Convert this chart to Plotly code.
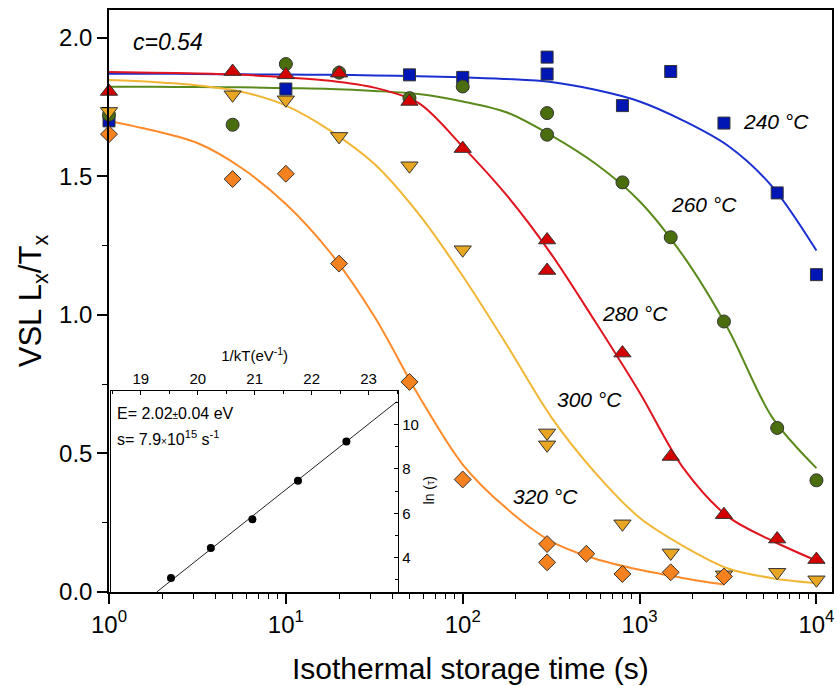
import plotly.graph_objects as go
import numpy as np

# ---------------- data ----------------
blue_t = [1, 10, 50, 100, 300, 300, 800, 1500, 3000, 6000, 10000]
blue_y = [1.70, 1.815, 1.866, 1.857, 1.93, 1.869, 1.755, 1.878, 1.692, 1.44, 1.145]
green_t = [1, 5, 10, 20, 50, 100, 300, 300, 800, 1500, 3000, 6000, 10000]
green_y = [1.722, 1.686, 1.905, 1.874, 1.782, 1.824, 1.728, 1.65, 1.478, 1.28, 0.976, 0.592, 0.403]
red_t = [1, 5, 10, 20, 50, 100, 300, 300, 800, 1500, 3000, 6000, 10000]
red_y = [1.806, 1.878, 1.866, 1.872, 1.77, 1.60, 1.27, 1.16, 0.862, 0.489, 0.279, 0.191, 0.117]
yellow_t = [1, 5, 10, 20, 50, 100, 300, 300, 800, 1500, 3000, 6000, 10000]
yellow_y = [1.734, 1.794, 1.776, 1.644, 1.538, 1.235, 0.574, 0.531, 0.246, 0.141, 0.062, 0.071, 0.044]
orange_t = [1, 5, 10, 20, 50, 100, 300, 300, 500, 800, 1500, 3000]
orange_y = [1.652, 1.49, 1.509, 1.185, 0.758, 0.406, 0.173, 0.107, 0.138, 0.065, 0.071, 0.056]

# fitted curves (at quarter-decade steps)
fit_t = [1, 1.78, 3.16, 5.62, 10, 17.8, 31.6, 56.2, 100, 178, 316, 562, 1000, 1778, 3162, 5623, 10000]
blue_fit_y = [1.870, 1.870, 1.869, 1.868, 1.867, 1.866, 1.864, 1.861, 1.857, 1.851, 1.840, 1.812, 1.770, 1.700, 1.610, 1.463, 1.232]
green_fit_y = [1.823, 1.823, 1.822, 1.821, 1.818, 1.815, 1.808, 1.797, 1.770, 1.730, 1.648, 1.546, 1.410, 1.210, 0.950, 0.630, 0.447]
red_fit_y = [1.876, 1.874, 1.871, 1.866, 1.857, 1.845, 1.820, 1.765, 1.607, 1.430, 1.220, 0.975, 0.720, 0.445, 0.272, 0.185, 0.113]
yellow_fit_y = [1.847, 1.840, 1.828, 1.805, 1.755, 1.665, 1.545, 1.365, 1.140, 0.890, 0.632, 0.430, 0.268, 0.165, 0.085, 0.050, 0.032]
orange_fit_t = [1, 1.78, 3.16, 5.62, 10, 17.8, 31.6, 56.2, 100, 178, 316, 562, 1000, 1778, 3000]
orange_fit_y = [1.700, 1.665, 1.620, 1.530, 1.400, 1.225, 0.995, 0.710, 0.460, 0.300, 0.183, 0.120, 0.080, 0.050, 0.027]

# inset (Arrhenius plot)
inv_kT = [19.53, 20.23, 20.96, 21.76, 22.61]
ln_tau = [3.09, 4.44, 5.73, 7.47, 9.24]
line_x = [19.28, 23.49]
line_y = [2.455, 11.02]

temp_labels = ["240 °C", "260 °C", "280 °C", "300 °C", "320 °C"]
label_t = [5930, 2320, 947, 521, 294]
label_y = [1.697, 1.397, 1.006, 0.696, 0.345]

x_tick_vals = [1, 10, 100, 1000, 10000]
x_tick_text = ["10<sup>0</sup>", "10<sup>1</sup>", "10<sup>2</sup>", "10<sup>3</sup>", "10<sup>4</sup>"]
y_tick_vals = [0.0, 0.5, 1.0, 1.5, 2.0]
y_tick_text = ["0.0", "0.5", "1.0", "1.5", "2.0"]
inset_x_ticks = [19, 20, 21, 22, 23]
inset_y_ticks = [4, 6, 8, 10]

# ---------------- styles ----------------
FONT = "Liberation Sans, Arial, sans-serif"
series = [
    (blue_t, blue_y, fit_t, blue_fit_y, "square", "#0016B4", "#1A2FD0", 12),
    (green_t, green_y, fit_t, green_fit_y, "circle", "#4A6E0E", "#5A8A1C", 13),
    (red_t, red_y, fit_t, red_fit_y, "triangle-up", "#D40000", "#E0141E", 15),
    (yellow_t, yellow_y, fit_t, yellow_fit_y, "triangle-down", "#E8A622", "#F0B634", 15),
    (orange_t, orange_y, orange_fit_t, orange_fit_y, "diamond", "#F5821F", "#FF8A2A", 13),
]

fig = go.Figure()
for t, y, ft, fy, sym, mc, lc, sz in series:
    fig.add_trace(go.Scatter(x=ft, y=fy, mode="lines",
                             line=dict(color=lc, width=2, shape="spline", smoothing=0.9),
                             showlegend=False, hoverinfo="skip"))
for t, y, ft, fy, sym, mc, lc, sz in series:
    fig.add_trace(go.Scatter(x=t, y=y, mode="markers",
                             marker=dict(symbol=sym, size=sz, color=mc, line=dict(color="#333333", width=1)),
                             showlegend=False, cliponaxis=False))

# inset traces
fig.add_trace(go.Scatter(x=line_x, y=line_y, mode="lines", line=dict(color="#222222", width=1),
                         xaxis="x2", yaxis="y2", showlegend=False))
fig.add_trace(go.Scatter(x=inv_kT, y=ln_tau, mode="markers", marker=dict(color="black", size=8),
                         xaxis="x2", yaxis="y2", showlegend=False))

minor_x = [m * 10 ** d for d in range(0, 4) for m in range(2, 10)]

fig.update_layout(
    width=837, height=686,
    margin=dict(l=109, r=3, t=10, b=94),
    paper_bgcolor="white", plot_bgcolor="white",
    font=dict(family=FONT, color="black"),
    xaxis=dict(type="log", range=[0, 4.088], tickmode="array", tickvals=x_tick_vals, ticktext=x_tick_text,
               ticks="outside", ticklen=10, tickwidth=1.5, tickcolor="black",
               showline=True, linecolor="black", linewidth=1.5, mirror=True, showgrid=False, zeroline=False,
               tickfont=dict(size=24),
               minor=dict(tickmode="array", tickvals=minor_x, ticks="outside", ticklen=5, tickwidth=1, tickcolor="black")),
    yaxis=dict(range=[0, 2.1], tickmode="array", tickvals=y_tick_vals, ticktext=y_tick_text,
               ticks="outside", ticklen=10, tickwidth=1.5, tickcolor="black",
               showline=True, linecolor="black", linewidth=1.5, mirror=True, showgrid=False, zeroline=False,
               tickfont=dict(size=24),
               minor=dict(dtick=0.25, ticks="outside", ticklen=5, tickwidth=1, tickcolor="black"),
               title=dict(text="VSL L<sub>x</sub>/T<sub>x</sub>", font=dict(size=31), standoff=8)),
    xaxis2=dict(domain=[0.003, 0.4], anchor="y2", side="top", range=[18.48, 23.52],
                tickmode="array", tickvals=inset_x_ticks, ticks="inside", ticklen=4, tickcolor="black",
                minor=dict(dtick=0.5, ticks="inside", ticklen=3, tickcolor="black"),
                showline=True, linecolor="black", linewidth=1, mirror=True, showgrid=False, zeroline=False,
                tickfont=dict(size=15),
                title=dict(text="1/kT(eV<sup>-1</sup>)", font=dict(size=15), standoff=4)),
    yaxis2=dict(domain=[0, 0.345], anchor="x2", side="right", range=[2.455, 11.5],
                tickmode="array", tickvals=inset_y_ticks, ticks="inside", ticklen=4, tickcolor="black",
                minor=dict(dtick=1, ticks="inside", ticklen=3, tickcolor="black"),
                showline=True, linecolor="black", linewidth=1, mirror=True, showgrid=False, zeroline=False,
                tickfont=dict(size=15)),
)

fig.add_shape(type="rect", xref="x2 domain", yref="y2 domain", x0=0, x1=1, y0=0, y1=1,
              fillcolor="white", line=dict(width=0), layer="below")

ann = []
for txt, lt, ly in zip(temp_labels, label_t, label_y):
    ann.append(dict(x=np.log10(lt), y=ly, xref="x", yref="y", text=f"<i>{txt}</i>", showarrow=False,
                    font=dict(size=21), xanchor="center", yanchor="middle"))
ann.append(dict(x=0.03, y=0.945, xref="paper", yref="paper", text="<i>c=0.54</i>", showarrow=False,
                font=dict(size=23), xanchor="left", yanchor="middle"))
ann.append(dict(x=0.008, y=0.307, xref="paper", yref="paper",
                text="E= 2.02<span style='font-size:10px'>±</span>0.04 eV", showarrow=False,
                font=dict(size=16), xanchor="left", yanchor="middle"))
ann.append(dict(x=0.008, y=0.265, xref="paper", yref="paper",
                text="s= 7.9<span style='font-size:10px'>×</span>10<sup>15</sup> s<sup>-1</sup>", showarrow=False,
                font=dict(size=16), xanchor="left", yanchor="middle"))
ann.append(dict(x=0.443, y=0.175, xref="paper", yref="paper",
                text="ln (<span style='font-size:11px'>τ</span>)", showarrow=False, textangle=-90,
                font=dict(size=14), xanchor="center", yanchor="middle"))
# x-axis title
ann.append(dict(x=0.5, y=-0.132, xref="paper", yref="paper", text="Isothermal storage time (s)",
                showarrow=False, font=dict(size=30), xanchor="center", yanchor="middle"))
fig.update_layout(annotations=ann)

fig.write_html("out.html")
